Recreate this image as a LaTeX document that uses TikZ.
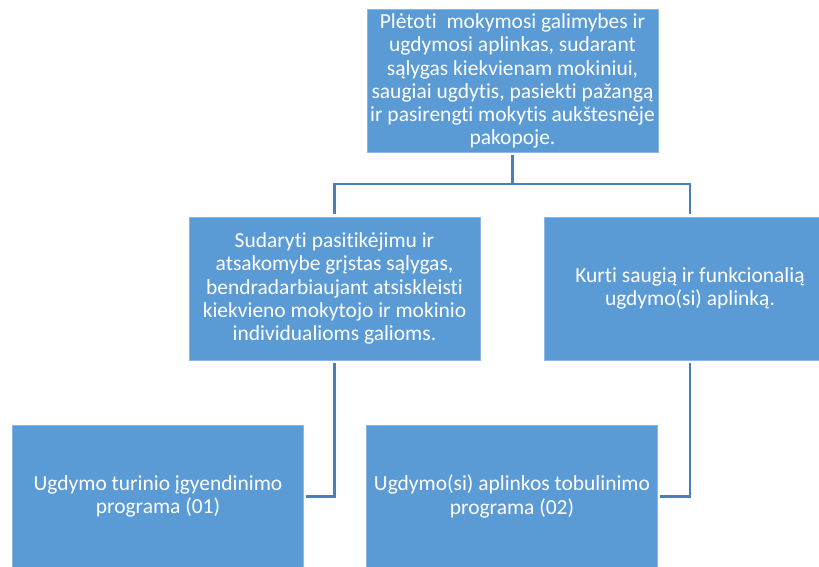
\documentclass[tikz,border=0pt]{standalone}
\usepackage{fontspec}
\setmainfont[Ligatures=NoCommon]{Carlito}
\definecolor{boxfill}{HTML}{5B9BD5}
\definecolor{boxedge}{HTML}{8DB4E2}
\definecolor{linkc}{HTML}{4A7EBB}
\begin{document}
\begin{tikzpicture}[x=0.75pt,y=-0.75pt,
  box/.style={rectangle, fill=boxfill, draw=boxedge, line width=0.4pt,
    minimum width=291*0.75pt, minimum height=143*0.75pt, inner sep=0pt,
    align=center, text=white, font=\fontsize{16.1}{17.4}\selectfont},
  link/.style={draw=linkc, line width=1.6pt}]
\clip (0,0) rectangle (819,567);
\node[box] (top) at (512.5,81) {Plėtoti\ \ mokymosi galimybes ir\\ugdymosi aplinkas, sudarant\\sąlygas kiekvienam mokiniui,\\saugiai ugdytis, pasiekti pažangą\\ir pasirengti mokytis aukštesnėje\\pakopoje.};
\node[box] (ml) at (334.5,288.5) {Sudaryti pasitikėjimu ir\\atsakomybe grįstas sąlygas,\\bendradarbiaujant atsiskleisti\\kiekvieno mokytojo ir mokinio\\individualioms galioms.};
\node[box] (mr) at (690,288.5) {Kurti saugią ir funkcionalią\\ugdymo(si) aplinką.};
\node[box] (bl) at (158,496.5) {Ugdymo turinio įgyendinimo\\programa (01)};
\node[box] (br) at (512,496.5) {Ugdymo(si) aplinkos tobulinimo\\programa (02)};
\coordinate (hub) at (512.5,184);
\draw[link] ([yshift=-2*0.75pt]top.south) -- (hub);
\draw[link] (hub) -| ([yshift=3*0.75pt]ml.north);
\draw[link] (hub) -| ([yshift=3*0.75pt]mr.north);
\draw[link] ([yshift=-3*0.75pt]ml.south) |- ([xshift=2*0.75pt]bl.east);
\draw[link] ([yshift=-3*0.75pt]mr.south) |- ([xshift=2*0.75pt]br.east);
\end{tikzpicture}
\end{document}
